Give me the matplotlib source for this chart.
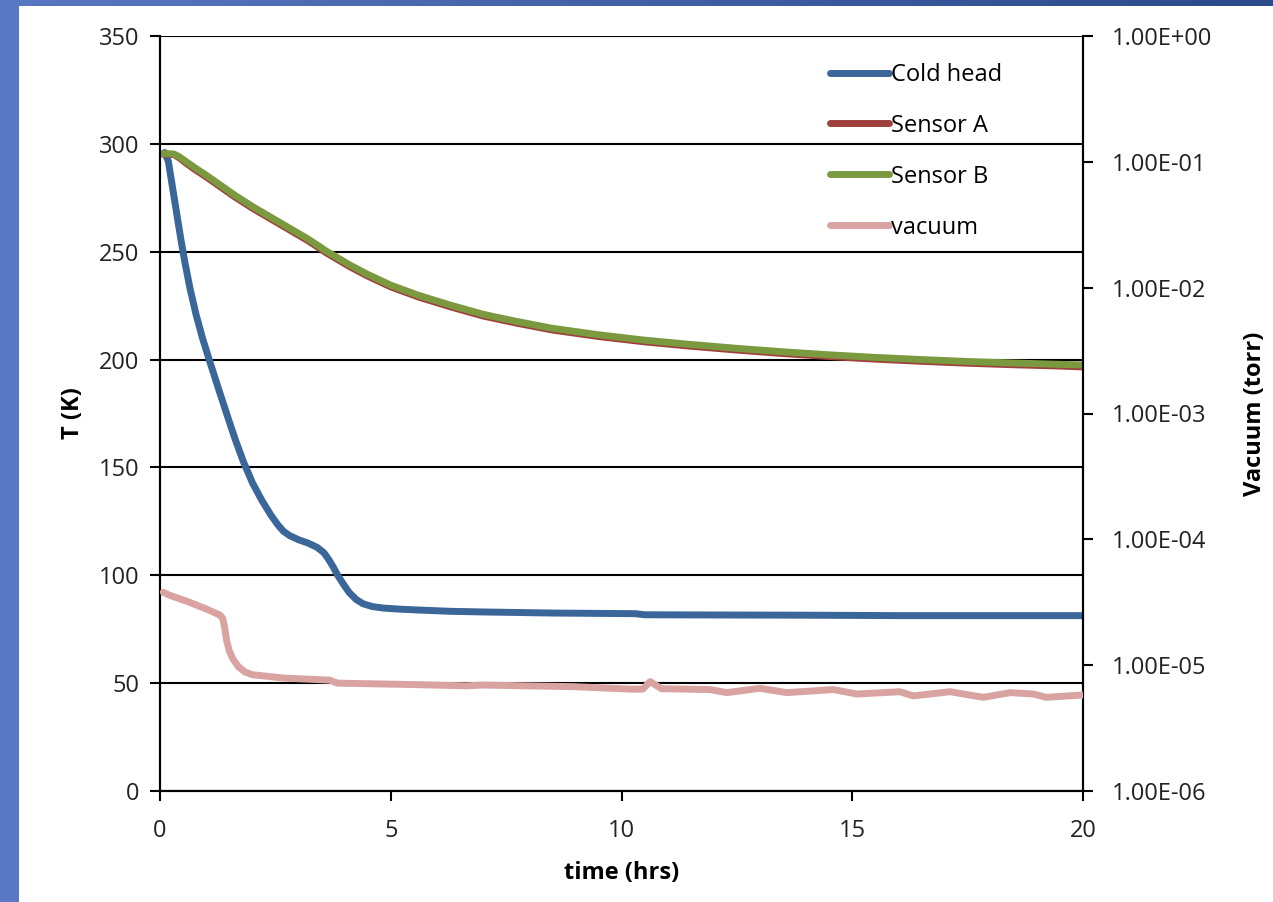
import numpy as np
import matplotlib
matplotlib.use("Agg")
import matplotlib.pyplot as plt
from matplotlib.ticker import FuncFormatter, MultipleLocator, LogLocator, NullLocator

plt.rcParams['font.family'] = ['Open Sans', 'DejaVu Sans']

# cold head temperature (K)
t_cold = [0.1, 0.18, 0.27, 0.36, 0.45, 0.54, 0.65, 0.78, 0.92, 1.08, 1.26, 1.45, 1.63, 1.81,
          2.0, 2.2, 2.4, 2.55, 2.67, 2.8, 3.0, 3.2, 3.4, 3.55, 3.65, 3.75, 3.85, 3.97, 4.1,
          4.25, 4.4, 4.6, 4.84, 5.2, 5.6, 6.3, 7.0, 7.6, 8.5, 10.3, 10.5, 12, 14, 16, 18, 20]
k_cold = [296, 292, 280, 268, 256, 245, 233, 221, 210, 199, 187, 174.5, 163, 152.5,
          143, 135, 128, 123.5, 120.5, 118.5, 116.5, 115, 113, 110.5, 107.5, 104, 100, 96, 92,
          88.8, 86.8, 85.5, 84.8, 84.3, 83.9, 83.3, 83.0, 82.8, 82.5, 82.2, 81.7, 81.6, 81.5,
          81.3, 81.3, 81.3]

# sensors (K)
t_sens = [0.05, 0.3, 0.42, 0.55, 0.75, 1.0, 1.3, 1.6, 2.0, 2.4, 2.8, 3.2, 3.5, 3.6, 3.8,
          4.1, 4.5, 5.0, 5.6, 6.3, 7.0, 7.7, 8.5, 9.5, 10.5, 11.5, 12.5, 13.5, 14.5, 15.5,
          16.5, 17.5, 18.5, 19.5, 20]
k_sens_b = [295.5, 295.3, 294, 292, 289, 285.5, 281, 276.5, 271, 266, 261, 256, 251.8,
            250.3, 247.8, 244, 239.5, 234.5, 229.8, 225.2, 221, 217.8, 214.5, 211.5, 209,
            207, 205.2, 203.6, 202.2, 201, 200, 199.1, 198.4, 197.8, 197.5]
k_sens_a = [295.3, 295.0, 293.5, 291.3, 288.2, 284.7, 280.2, 275.7, 270.2, 265.2, 260.2,
            255.2, 251.0, 249.5, 247.0, 243.2, 238.7, 233.7, 229.0, 224.4, 220.2, 217.0,
            213.7, 210.7, 208.2, 206.2, 204.4, 202.8, 201.4, 200.2, 199.2, 198.3, 197.6,
            197.0, 196.6]

# vacuum (torr)
t_vac = [0.07, 0.2, 0.6, 1.0, 1.3, 1.36, 1.4, 1.44, 1.5, 1.58, 1.7, 1.85, 2.0, 2.67, 3.68,
         3.84, 5.57, 6.64, 6.97, 8.96, 10.2, 10.46, 10.62, 10.87, 11.92, 12.28, 13.0, 13.58,
         14.59, 15.1, 16.03, 16.32, 17.12, 17.84, 18.42, 18.92, 19.21, 20.0]
p_vac = [3.8e-5, 3.6e-5, 3.2e-5, 2.8e-5, 2.5e-5, 2.35e-5, 2.0e-5, 1.6e-5, 1.3e-5, 1.12e-5,
         9.7e-6, 8.8e-6, 8.4e-6, 7.9e-6, 7.6e-6, 7.2e-6, 7.0e-6, 6.85e-6, 6.95e-6, 6.75e-6,
         6.45e-6, 6.45e-6, 7.4e-6, 6.5e-6, 6.4e-6, 6.05e-6, 6.55e-6, 6.05e-6, 6.4e-6, 5.9e-6,
         6.15e-6, 5.7e-6, 6.15e-6, 5.55e-6, 6.05e-6, 5.9e-6, 5.55e-6, 5.8e-6]

W, H = 1273, 902
fig = plt.figure(figsize=(W / 100, H / 100), dpi=100)

# blue slide border (left strip + top gradient strip)
c0 = np.array([88, 120, 195]) / 255
c1 = np.array([43, 74, 138]) / 255
g = np.linspace(0, 1, W)[:, None]
top = np.repeat(((1 - g) * c0 + g * c1)[None, :, :], 6, axis=0)
fig.figimage(top, xo=0, yo=H - 6, zorder=0)
fig.figimage(np.tile(c0, (H, 19, 1)), xo=0, yo=0, zorder=0)

ax = fig.add_axes([160 / W, 1 - 791 / H, 923 / W, 755 / H])
ax2 = ax.twinx()

lw = 5
l1, = ax.plot(t_cold, k_cold, color='#3a6699', lw=lw, solid_capstyle='round',
              solid_joinstyle='round', label='Cold head', zorder=3)
l2, = ax.plot(t_sens, k_sens_a, color='#a0403c', lw=lw, solid_capstyle='round',
              solid_joinstyle='round', label='Sensor A', zorder=3)
l3, = ax.plot(t_sens, k_sens_b, color='#7b9a40', lw=lw, solid_capstyle='round',
              solid_joinstyle='round', label='Sensor B', zorder=3)
l4, = ax2.plot(t_vac, p_vac, color='#d9a3a2', lw=lw, solid_capstyle='round',
               solid_joinstyle='round', label='vacuum', zorder=3)

ax.set_xlim(0, 20)
ax.set_ylim(0, 350)
ax.xaxis.set_major_locator(MultipleLocator(5))
ax.yaxis.set_major_locator(MultipleLocator(50))
ax.grid(axis='y', color='black', lw=1.5)
ax.set_axisbelow(True)

ax2.set_yscale('log')
ax2.set_ylim(1e-6, 1)
ax2.yaxis.set_major_locator(LogLocator(base=10, numticks=10))
ax2.yaxis.set_minor_locator(NullLocator())
ax2.yaxis.set_major_formatter(FuncFormatter(lambda v, p: f"{v:.2E}"))

for a in (ax, ax2):
    for s in a.spines.values():
        s.set_linewidth(1.5)
    a.spines['top'].set_visible(False)

ax.tick_params(axis='both', labelsize=17, length=7, width=1.5, direction='out',
               colors='black', labelcolor='#222222')
ax.tick_params(axis='y', pad=8)
ax.tick_params(axis='x', pad=13)
ax2.tick_params(axis='y', labelsize=17, length=7, width=1.5, direction='out', pad=14,
                labelcolor='#222222')

ax.set_xlabel('time (hrs)', fontsize=17, fontweight='bold', labelpad=13)
ax.set_ylabel('T (K)', fontsize=17, fontweight='bold', labelpad=10)
ax2.set_ylabel('Vacuum (torr)', fontsize=17, fontweight='bold', labelpad=22)

ax2.legend(handles=[l1, l2, l3, l4], loc='upper left', bbox_to_anchor=(0.7157, 0.977),
           frameon=False, fontsize=17, handlelength=2.5, handletextpad=0.1,
           labelspacing=1.14, borderaxespad=0)

fig.savefig('out.png', dpi=100, facecolor='white')
